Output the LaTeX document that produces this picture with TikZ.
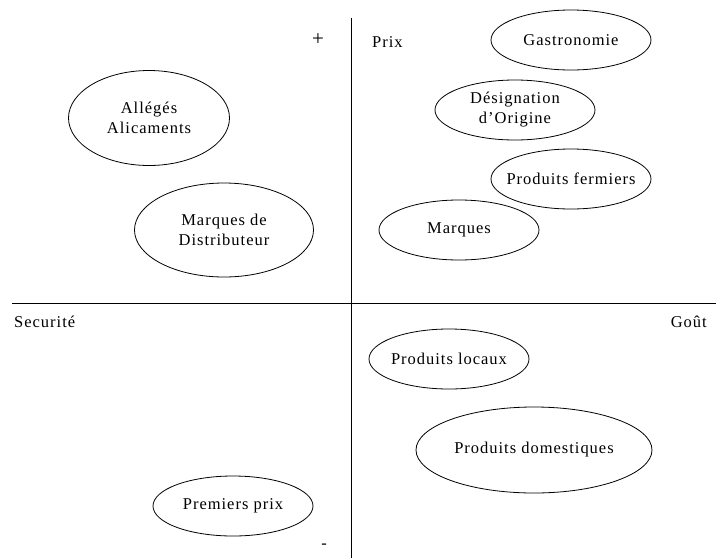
\documentclass[tikz,border=0pt]{standalone}
\usepackage{fontspec}
\setmainfont{Liberation Serif}[LetterSpace=6]
\usetikzlibrary{shapes.geometric}

\begin{document}
\begin{tikzpicture}[x=1pt,y=-1pt,
  every node/.style={font=\fontsize{16.5}{20}\selectfont},
  segment/.style={ellipse,draw,line width=0.8pt,inner sep=-30pt,align=center,
    minimum width=160pt,minimum height=60pt}]
\useasboundingbox (0,0) rectangle (716,558);

% axes
\coordinate (top) at (351,18);
\coordinate (bottom) at (351,558);
\coordinate (left) at (12,303);
\coordinate (right) at (716,303);
\draw[line width=0.8pt] (top) -- (bottom);
\draw[line width=0.8pt] (left) -- (right);

\node (plus) at (318,40) [font=\fontsize{21}{24}\selectfont] {+};
\node (minus) at (324,546) {-};
\node (prix) at (372,42) [right, inner sep=0pt] {Prix};
\node (secu) at (14,322) [right, inner sep=0pt] {Securité};
\node (gout) at (707,322) [left, inner sep=0pt] {Goût};

% segments
\node (alleges) at (149,118) [segment, minimum width=161pt, minimum height=95pt] {Allégés\\Alicaments};
\node (mdd) at (224,230) [segment, minimum width=179pt, minimum height=94pt] {Marques de\\Distributeur};
\node (gastro) at (571,40) [segment] {Gastronomie};
\node (aoc) at (515,110) [segment] {Désignation\\d’Origine};
\node (fermiers) at (571,179) [segment] {Produits fermiers};
\node (marques) at (459,230) [segment] {Marques};
\node (locaux) at (449,359) [segment] {Produits locaux};
\node (domest) at (534,450) [segment, minimum width=236pt, minimum height=86pt] {Produits domestiques};
\node (premiers) at (233,506) [segment] {Premiers prix};
\end{tikzpicture}
\end{document}
